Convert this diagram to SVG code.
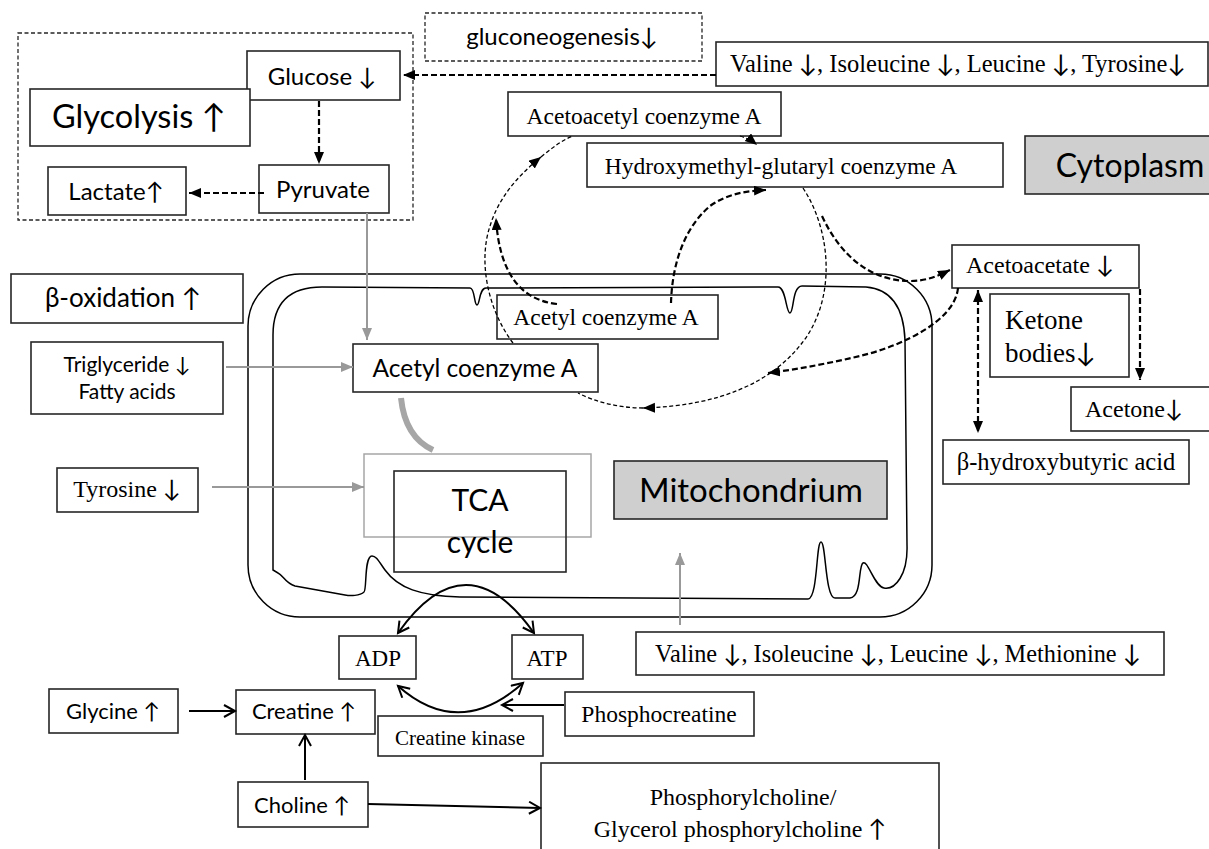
<svg xmlns="http://www.w3.org/2000/svg" width="1209" height="849" viewBox="0 0 1209 849">
<style>
.bx{fill:#fff;stroke:#262626;stroke-width:1.6}
.gbx{fill:#cfcfcf;stroke:#262626;stroke-width:1.6}
.dbx{fill:none;stroke:#262626;stroke-width:1.3;stroke-dasharray:4 2.5}
.c{font-family:Lato,"Open Sans","Liberation Sans",sans-serif;fill:#000}
.t{font-family:"Liberation Serif","Times New Roman",serif;fill:#000}
.ar{font-family:Lato,"DejaVu Sans",sans-serif;fill:#000}
.m{text-anchor:middle}
.mem{fill:none;stroke:#000;stroke-width:1.5}
.thin{fill:none;stroke:#000;stroke-width:1.3;stroke-dasharray:4 2.5}
.bold{fill:none;stroke:#000;stroke-width:2.2;stroke-dasharray:6 3}
.gray{fill:none;stroke:#999;stroke-width:2}
.sol{fill:none;stroke:#000;stroke-width:2}
</style>
<defs>
<marker id="ah" markerUnits="userSpaceOnUse" markerWidth="14" markerHeight="12" refX="12" refY="5" orient="auto-start-reverse"><path d="M0,0 L12,5 L0,10 z" fill="#000"/></marker>
<marker id="ahg" markerUnits="userSpaceOnUse" markerWidth="14" markerHeight="12" refX="12" refY="5" orient="auto"><path d="M0,0 L12,5 L0,10 z" fill="#999"/></marker>
<marker id="ahv" markerUnits="userSpaceOnUse" markerWidth="16" markerHeight="16" refX="12" refY="7" orient="auto-start-reverse"><path d="M1,1 L12,7 L1,13" fill="none" stroke="#000" stroke-width="2"/></marker>
</defs>

<g id="mitochondrion">
<rect x="248" y="274" width="684" height="343" rx="52" class="mem"/>
<path class="mem" d="M273,570 L273,335 Q273,287 322,287 L470,288 C475,288 474,305 477,305 C480,305 479,288 486,288 L778,287 C786,287 786,313 790,313 C794,313 792,286 802,286 L866,287 Q903,290 905,340 L907,545 C908,575 895,590 884,588 C874,586 868,560 863,563 C858,566 862,597 850,598 L835,598 C825,598 826,542 821,542 C816,542 818,598 808,599 L460,597 C420,596 398,588 385,570 C378,560 376,556 372,556 C364,556 367,590 364,592 C360,596 350,596 345,595 L295,586 C285,583 283,575 278,573 Z"/>
</g>

<g id="glycolysis-region"><rect x="18" y="33" width="395" height="187" class="dbx"/></g>
<g id="gluconeogenesis"><rect x="425" y="13" width="277" height="48" class="dbx"/><text x="562" y="45" class="c m" font-size="24">gluconeogenesis↓</text></g>
<g id="glucose"><rect x="247" y="51" width="153" height="49" class="bx"/><text x="322" y="85" class="c m" font-size="24">Glucose ↓</text></g>
<g id="glycolysis"><rect x="30" y="89" width="220" height="57" class="bx"/><text x="139" y="128" class="c m" font-size="32.5">Glycolysis ↑</text></g>
<g id="pyruvate"><rect x="259" y="165" width="130" height="48" class="bx"/><text x="323" y="198" class="c m" font-size="24">Pyruvate</text></g>
<g id="lactate"><rect x="48" y="167" width="138" height="48" class="bx"/><text x="116" y="200" class="c m" font-size="24">Lactate↑</text></g>
<g id="valine-top"><rect x="716" y="42" width="492" height="44" class="bx"/><text x="730" y="72" class="t" font-size="24.5">Valine <tspan class="ar">↓</tspan>, Isoleucine <tspan class="ar">↓</tspan>, Leucine <tspan class="ar">↓</tspan>, Tyrosine<tspan class="ar">↓</tspan></text></g>
<g id="acetoacetyl"><rect x="508" y="92" width="273" height="44" class="bx"/><text x="644" y="124" class="t m" font-size="23.5">Acetoacetyl coenzyme A</text></g>
<g id="hmg"><rect x="587" y="143" width="416" height="44" class="bx"/><text x="781" y="174" class="t m" font-size="23.5">Hydroxymethyl-glutaryl coenzyme A</text></g>
<g id="cytoplasm"><rect x="1025" y="136" width="200" height="58" class="gbx"/><text x="1130" y="177" class="c m" font-size="32">Cytoplasm</text></g>
<g id="beta-oxidation"><rect x="11" y="274" width="232" height="49" class="bx"/><text x="123" y="307" class="c m" font-size="26">β-oxidation ↑</text></g>
<g id="triglyceride"><rect x="31" y="342" width="192" height="72" class="bx"/><text x="127" y="372" class="c m" font-size="21">Triglyceride ↓</text><text x="127" y="399" class="c m" font-size="21">Fatty acids</text></g>
<g id="tyrosine"><rect x="57" y="468" width="141" height="44" class="bx"/><text x="127" y="497" class="t m" font-size="24">Tyrosine <tspan class="ar">↓</tspan></text></g>
<g id="acetylcoa-mito"><rect x="353" y="344" width="245" height="48" class="bx"/><text x="475" y="377" class="c m" font-size="24.5">Acetyl coenzyme A</text></g>
<g id="acetylcoa-membrane"><rect x="497" y="295" width="221" height="44" class="bx"/><text x="606" y="325" class="t m" font-size="23.5">Acetyl coenzyme A</text></g>
<g id="tca"><rect x="364" y="454" width="227" height="83" fill="none" stroke="#a6a6a6" stroke-width="1.5"/><rect x="394" y="471" width="172" height="101" fill="none" stroke="#262626" stroke-width="1.6"/><text x="480" y="511" class="c m" font-size="30">TCA</text><text x="480" y="553" class="c m" font-size="30">cycle</text></g>
<g id="mitochondrium-label"><rect x="614" y="461" width="273" height="58" class="gbx"/><text x="751" y="502" class="c m" font-size="33">Mitochondrium</text></g>
<g id="acetoacetate"><rect x="952" y="245" width="187" height="43" class="bx"/><text x="1040" y="273" class="t m" font-size="24">Acetoacetate <tspan class="ar">↓</tspan></text></g>
<g id="ketone"><rect x="990" y="294" width="139" height="83" class="bx"/><text x="1005" y="329" class="t" font-size="27">Ketone</text><text x="1005" y="362" class="t" font-size="27">bodies<tspan class="ar">↓</tspan></text></g>
<g id="acetone"><rect x="1071" y="387" width="145" height="44" class="bx"/><text x="1085" y="417" class="t" font-size="24">Acetone<tspan class="ar">↓</tspan></text></g>
<g id="hydroxybutyric"><rect x="943" y="440" width="246" height="44" class="bx"/><text x="1066" y="470" class="t m" font-size="24.5">β-hydroxybutyric acid</text></g>
<g id="adp"><rect x="339" y="636" width="77" height="43" class="bx"/><text x="378" y="666" class="t m" font-size="23">ADP</text></g>
<g id="atp"><rect x="512" y="635" width="71" height="44" class="bx"/><text x="547" y="666" class="t m" font-size="23">ATP</text></g>
<g id="valine-bottom"><rect x="636" y="632" width="528" height="43" class="bx"/><text x="898" y="662" class="t m" font-size="24.3">Valine <tspan class="ar">↓</tspan>, Isoleucine <tspan class="ar">↓</tspan>, Leucine <tspan class="ar">↓</tspan>, Methionine <tspan class="ar">↓</tspan></text></g>
<g id="glycine"><rect x="49" y="689" width="129" height="44" class="bx"/><text x="113" y="719" class="c m" font-size="22">Glycine ↑</text></g>
<g id="creatine"><rect x="236" y="690" width="139" height="44" class="bx"/><text x="304" y="719" class="c m" font-size="22">Creatine ↑</text></g>
<g id="creatine-kinase"><rect x="378" y="716" width="165" height="40" class="bx"/><text x="460" y="745" class="t m" font-size="21">Creatine kinase</text></g>
<g id="phosphocreatine"><rect x="565" y="692" width="189" height="44" class="bx"/><text x="659" y="722" class="t m" font-size="23.5">Phosphocreatine</text></g>
<g id="choline"><rect x="238" y="782" width="130" height="45" class="bx"/><text x="302" y="813" class="c m" font-size="22">Choline ↑</text></g>
<g id="phosphorylcholine"><rect x="541" y="763" width="398" height="100" class="bx"/><text x="743" y="805" class="t m" font-size="24">Phosphorylcholine/</text><text x="740" y="837" class="t m" font-size="24">Glycerol phosphorylcholine <tspan class="ar">↑</tspan></text></g>

<g id="connectors">
<path class="bold" d="M716,75 L403,75" marker-end="url(#ah)"/>
<path class="bold" d="M319,101 L319,164" marker-end="url(#ah)"/>
<path class="bold" d="M264,193 L189,193" marker-end="url(#ah)"/>
<path class="gray" d="M367,213 L367,340" marker-end="url(#ahg)"/>
<path class="gray" d="M226,367 L353,367" marker-end="url(#ahg)"/>
<path class="gray" d="M212,487 L364,487" marker-end="url(#ahg)"/>
<path class="gray" d="M680,625 L680,553" marker-end="url(#ahg)"/>
<path d="M401,398 Q405,437 433,450" fill="none" stroke="#a6a6a6" stroke-width="6"/>
<path class="thin" d="M740,136 Q750,139 757,145" marker-end="url(#ah)"/>
<path class="thin" d="M513,343 C488,310 478,262 490,226 C498,200 515,178 541,157" marker-end="url(#ah)"/>
<path class="thin" d="M541,157 C552,148 562,140 573,136"/>
<path class="thin" d="M803,188 C832,232 836,300 802,343 C772,382 720,406 643,408" marker-end="url(#ah)"/>
<path class="thin" d="M643,408 C620,408 595,402 578,393"/>
<path class="bold" d="M557,304 C520,300 499,272 496,218" marker-end="url(#ah)"/>
<path class="bold" d="M671,303 C672,268 682,230 710,206 C727,194 745,191 766,190" marker-end="url(#ah)"/>
<path class="bold" d="M822,216 C840,255 870,281 910,281 C926,281 938,276 950,270" marker-end="url(#ah)"/>
<path class="bold" d="M958,288 C955,320 905,345 860,356 C830,363 800,369 768,373" marker-end="url(#ah)"/>
<path class="bold" d="M978,290 L978,433" marker-start="url(#ah)" marker-end="url(#ah)"/>
<path class="bold" d="M1140,289 L1140,380" marker-end="url(#ah)"/>
<path class="sol" d="M398,633 Q466,537 534,633" marker-start="url(#ahv)" marker-end="url(#ahv)"/>
<path class="sol" d="M398,686 Q459,740 523,683" marker-start="url(#ahv)" marker-end="url(#ahv)"/>
<path class="sol" d="M564,705 L502,705" marker-end="url(#ahv)"/>
<path class="sol" d="M189,711 L235,711" marker-end="url(#ahv)"/>
<path class="sol" d="M305,780 L305,735" marker-end="url(#ahv)"/>
<path class="sol" d="M368,804 L540,808" marker-end="url(#ahv)"/>
</g>
</svg>
